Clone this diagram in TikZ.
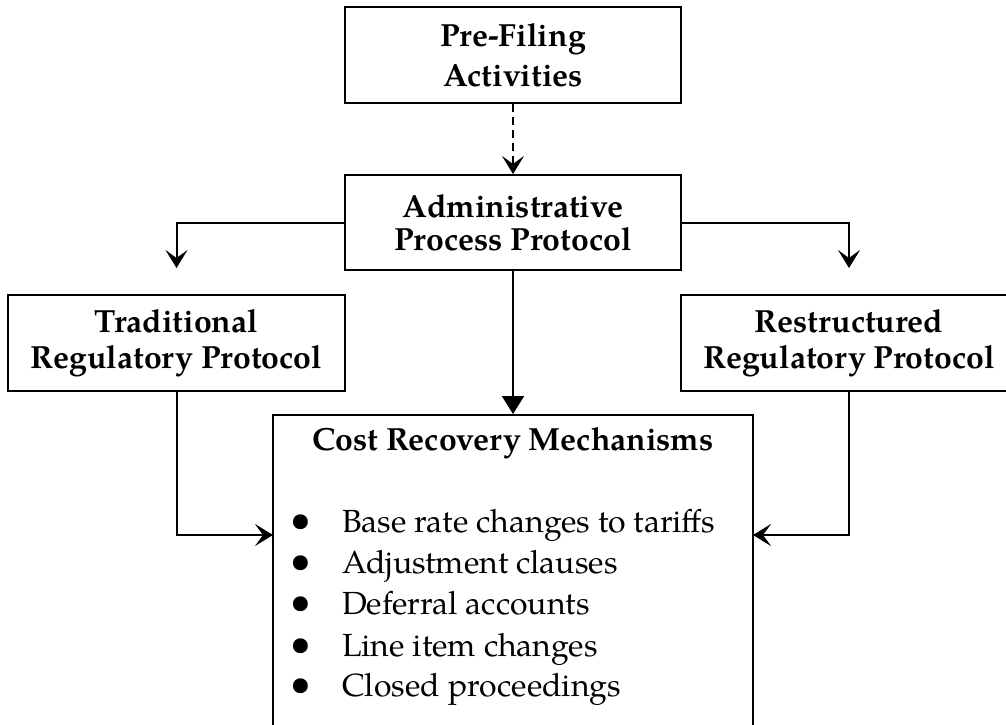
\documentclass[tikz,border=0pt]{standalone}
\usepackage{fontspec}
\setmainfont{texgyrepagella}[Extension=.otf,UprightFont=*-regular,BoldFont=*-bold,ItalicFont=*-italic,BoldItalicFont=*-bolditalic]
\usetikzlibrary{arrows.meta}
\tikzset{
  box/.style={draw, line width=2pt, rectangle, align=center, inner sep=0pt,
    font=\fontsize{32}{36}\selectfont\bfseries},
  conn/.style={line width=2pt},
  arr/.style={conn, -{Stealth[length=18pt,width=22pt,inset=8pt]}},
  tri/.style={conn, -{Triangle[length=18pt,width=22pt]}},
  dasharr/.style={arr, dash pattern=on 8pt off 5pt},
  ttl/.style={font=\fontsize{32}{37}\selectfont\bfseries, inner sep=0pt, anchor=base},
  item/.style={font=\fontsize{32}{37}\selectfont, inner sep=0pt, anchor=base west},
  bul/.style={inner sep=0pt, anchor=center, font=\fontsize{37}{37}\selectfont},
}
\begin{document}
\begin{tikzpicture}[x=1pt,y=-1pt]
\useasboundingbox (0,0) rectangle (1006,725);
\clip (0,0) rectangle (1006,725);
\node[box, minimum width=336pt, minimum height=96pt, font=\fontsize{32}{40}\selectfont\bfseries] (pre) at (513,55) {Pre-Filing\\Activities};
\node[box, minimum width=336pt, minimum height=95pt, font=\fontsize{32}{33}\selectfont\bfseries] (admin) at (513,222.5) {Administrative\\Process Protocol};
\node[box, minimum width=337pt, minimum height=96pt] (trad) at (176.5,343) {Traditional\\Regulatory Protocol};
\node[box, minimum width=336pt, minimum height=96pt] (rest) at (849,343) {Restructured\\Regulatory Protocol};
\node[box, anchor=north, minimum width=480pt, minimum height=360pt] (cost) at (513,414) {};
\node[ttl] (ctitle) at (513,450) {Cost Recovery Mechanisms};
\node[bul] (b1) at (300.5,523.5) {\textbullet};
\node[item] (i1) at (342,532) {Base rate changes to tariffs};
\node[bul] (b2) at (300.5,564.5) {\textbullet};
\node[item] (i2) at (342,573) {Adjustment clauses};
\node[bul] (b3) at (300.5,605.5) {\textbullet};
\node[item] (i3) at (342,614) {Deferral accounts};
\node[bul] (b4) at (300.5,647.5) {\textbullet};
\node[item] (i4) at (342,656) {Line item changes};
\node[bul] (b5) at (300.5,687.5) {\textbullet};
\node[item] (i5) at (342,696) {Closed proceedings};
\coordinate (inL) at (273,535);
\coordinate (inR) at (753,535);
\draw[dasharr] (pre.south) -- (admin.north);
\draw[arr, shorten >=26pt] (admin.west) -| (trad.north);
\draw[arr, shorten >=26pt] (admin.east) -| (rest.north);
\draw[tri] (admin.south) -- (cost.north);
\draw[arr] (trad.south) |- (inL);
\draw[arr] (rest.south) |- (inR);
\end{tikzpicture}
\end{document}
